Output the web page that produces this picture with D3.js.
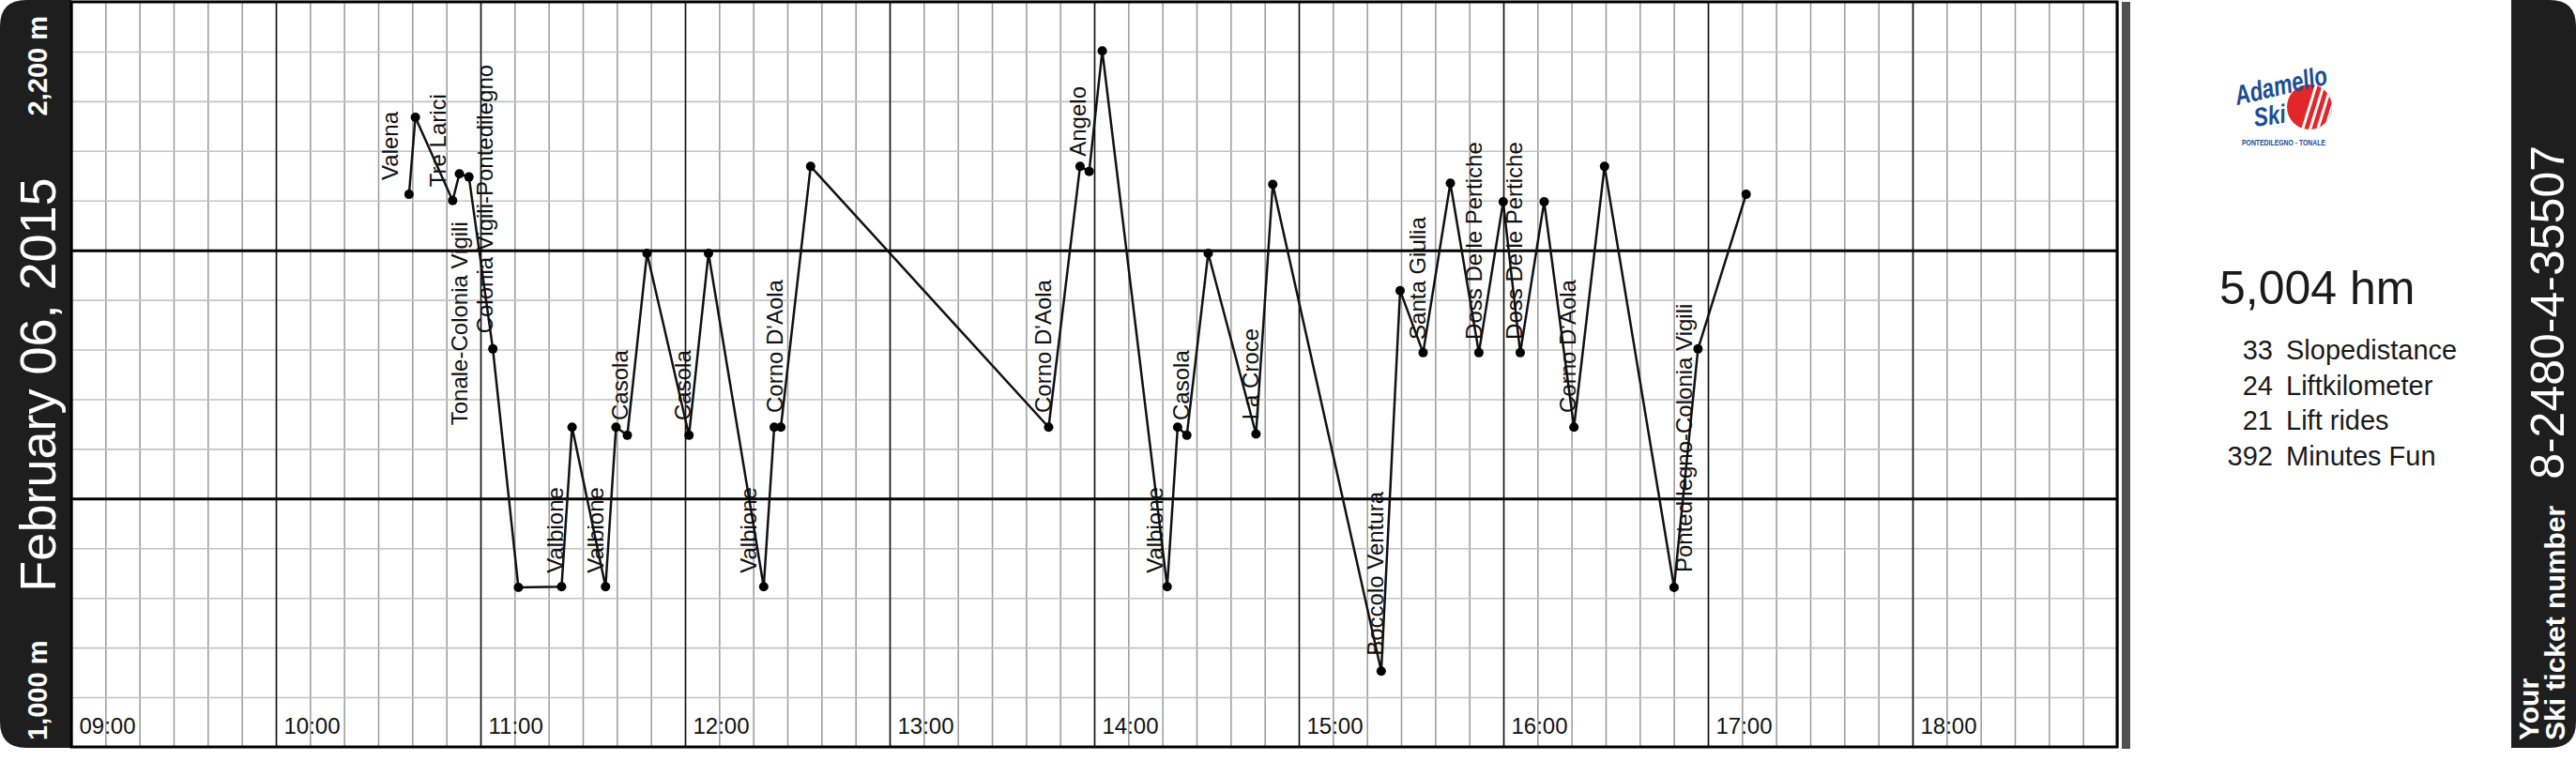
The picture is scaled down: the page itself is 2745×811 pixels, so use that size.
<!DOCTYPE html>
<html><head><meta charset="utf-8">
<script src="https://cdn.jsdelivr.net/npm/d3@7"></script>
<style>
html,body{margin:0;padding:0;background:#fff;}
svg{display:block;font-family:"Liberation Sans",Arial,sans-serif;}
</style>
</head><body>
<svg id="chart" width="2745" height="811"></svg>
<script>
// ---- data ----
const rideTimes = ["10:39:03","10:40:54","10:51:50","10:53:49","10:56:37","11:03:38","11:11:07","11:23:47","11:26:52","11:36:41",
  "11:39:45","11:43:04","11:48:51","12:01:09","12:06:53","12:23:04","12:26:09","12:28:06","12:36:50","13:46:38",
  "13:55:51","13:58:32","14:02:22","14:21:24","14:24:28","14:27:10","14:33:26","14:47:27","14:52:22","15:24:11",
  "15:29:43","15:36:28","15:44:27","15:52:49","15:59:57","16:04:57","16:11:58","16:20:42","16:29:40","16:50:04",
  "16:57:05","17:11:12"];
const rideAltitudes = [1890,2014,1880,1923,1918,1641,1257,1258,1515,1258,
  1515,1502,1795,1502,1795,1258,1515,1515,1935,1515,
  1935,1927,2121,1258,1515,1502,1795,1504,1906,1122,
  1735,1635,1908,1635,1878,1635,1878,1515,1935,1257,
  1641,1890];
const liftNames = ["Valena","Tre Larici","Tonale-Colonia Vigili","Colonia Vigili-Pontedilegno","Valbione","Valbione",
  "Casola","Casola","Valbione","Corno D'Aola","Corno D'Aola","Angelo","Valbione","Casola","La Croce",
  "Boccolo Ventura","Santa Giulia","Doss Delle Pertiche","Doss Delle Pertiche","Corno D'Aola","Pontedilegno-Colonia Vigili"];
const liftLabelTimes = ["10:35:46","10:49:48","10:56:09","11:03:35","11:24:14","11:36:04",
  "11:43:12","12:01:41","12:20:56","12:28:37","13:47:20","13:57:32","14:20:06","14:27:47","14:48:11",
  "15:24:47","15:37:08","15:53:38","16:05:31","16:21:11","16:55:19"];
const liftLabelAltitudes = [1913,1902,1518,1666,1280,1280,
  1526,1526,1280,1538,1538,1951,1280,1526,1527,
  1147,1656,1656,1656,1538,1281];
const timeTickLabels = ["09:00","10:00","11:00","12:00","13:00","14:00","15:00","16:00","17:00","18:00"];
const altitudeDomain = [1000, 2200];
const altitudeLabels = ["2,200 m","1,000 m"];
const dateText = "February 06, 2015";
const totalText = "5,004 hm";
const statValues = ["33","24","21","392"];
const statNames = ["Slopedistance","Liftkilometer","Lift rides","Minutes Fun"];
const ticketNumber = "8-2480-4-35507";

// ---- setup ----
const svg = d3.select("#chart");
const parse = d3.timeParse("%H:%M:%S");
const L = 76, R = 2256, T = 2, B = 796;
const x = d3.scaleTime().domain([parse("09:00:00"), parse("19:00:00")]).range([L, R]);
const y = d3.scaleLinear().domain(altitudeDomain).range([B, T]);

const rides = rideTimes.map((t, i) => ({t: parse(t), alt: rideAltitudes[i]}));
const lifts = liftNames.map((n, i) => ({name: n, t: parse(liftLabelTimes[i]), alt: liftLabelAltitudes[i]}));

// ---- side panels ----
const panelColor = "#1e1e1e";
function leftPanel(x0, x1, y0, y1, r) {
  return `M${x1},${y0} L${x0 + r},${y0} Q${x0},${y0} ${x0},${y0 + r} L${x0},${y1 - r} Q${x0},${y1} ${x0 + r},${y1} L${x1},${y1} Z`;
}
function rightPanel(x0, x1, y0, y1, r) {
  return `M${x0},${y0} L${x1 - r},${y0} Q${x1},${y0} ${x1},${y0 + r} L${x1},${y1 - r} Q${x1},${y1} ${x1 - r},${y1} L${x0},${y1} Z`;
}
svg.append("path").attr("d", leftPanel(0, L, 0, 797, 28)).attr("fill", panelColor);
svg.append("path").attr("d", rightPanel(2676, 2745, 0, 797, 28)).attr("fill", panelColor);

// ---- grid ----
const grid = svg.append("g");
const h = B - T;
grid.append("g").attr("transform", `translate(0,${B})`)
  .call(d3.axisBottom(x).ticks(d3.timeMinute.every(10)).tickSize(-h).tickFormat(""))
  .call(g => g.select(".domain").remove())
  .call(g => g.selectAll("line").attr("stroke", "#9a9a9a").attr("stroke-width", 1.5));
grid.append("g").attr("transform", `translate(${L},0)`)
  .call(d3.axisLeft(y).tickValues(d3.range(altitudeDomain[0], altitudeDomain[1] + 1, 80)).tickSize(-(R - L)).tickFormat(""))
  .call(g => g.select(".domain").remove())
  .call(g => g.selectAll("line").attr("stroke", "#c4c4c4").attr("stroke-width", 1.6));
grid.append("g").attr("transform", `translate(0,${B})`)
  .call(d3.axisBottom(x).ticks(d3.timeHour.every(1)).tickSize(-h).tickFormat(""))
  .call(g => g.select(".domain").remove())
  .call(g => g.selectAll("line").attr("stroke", "#111").attr("stroke-width", 1.5));
grid.append("g").attr("transform", `translate(${L},0)`)
  .call(d3.axisLeft(y).tickValues([1400, 1800]).tickSize(-(R - L)).tickFormat(""))
  .call(g => g.select(".domain").remove())
  .call(g => g.selectAll("line").attr("stroke", "#000").attr("stroke-width", 3));

// time tick labels
const tickAxis = svg.append("g").attr("transform", `translate(0,${B})`)
  .call(d3.axisBottom(x).tickValues(timeTickLabels.map(s => parse(s + ":00")))
    .tickSize(0).tickFormat((d, i) => timeTickLabels[i]));
tickAxis.select(".domain").remove();
tickAxis.selectAll("text")
  .attr("text-anchor", "start").attr("x", 8).attr("y", -14).attr("dy", 0)
  .attr("font-size", 24).attr("fill", "#111").attr("font-family", "Liberation Sans, Arial, sans-serif");

// border
svg.append("rect").attr("x", L).attr("y", T).attr("width", R - L).attr("height", B - T)
  .attr("fill", "none").attr("stroke", "#000").attr("stroke-width", 3);

// gray separator
svg.append("rect").attr("x", 2261).attr("y", T).attr("width", 9).attr("height", 796).attr("fill", "#505050");

// ---- ride line ----
const line = d3.line().x(d => x(d.t)).y(d => y(d.alt));
svg.append("path").datum(rides).attr("d", line)
  .attr("fill", "none").attr("stroke", "#111").attr("stroke-width", 2.5).attr("stroke-linejoin", "round");
svg.append("g").selectAll("circle").data(rides).join("circle")
  .attr("cx", d => x(d.t)).attr("cy", d => y(d.alt)).attr("r", 5).attr("fill", "#000");

// lift labels
svg.append("g").selectAll("text").data(lifts).join("text")
  .attr("transform", d => `translate(${x(d.t)},${y(d.alt)}) rotate(-90)`)
  .attr("text-anchor", "start").attr("font-size", 24).attr("fill", "#111")
  .text(d => d.name);

// ---- left panel texts ----
svg.append("text").attr("transform", `translate(50,17) rotate(-90)`).attr("text-anchor", "end")
  .attr("font-size", 29).attr("font-weight", "bold").attr("fill", "#fff").text(altitudeLabels[0]);
svg.append("text").attr("transform", `translate(50,789) rotate(-90)`).attr("text-anchor", "start")
  .attr("font-size", 29).attr("font-weight", "bold").attr("fill", "#fff").text(altitudeLabels[1]);
svg.append("text").attr("transform", `translate(59,410) rotate(-90)`).attr("text-anchor", "middle")
  .attr("font-size", 54).attr("fill", "#fff").text(dateText);

// ---- right panel texts ----
svg.append("text").attr("transform", `translate(2732,155) rotate(-90)`).attr("text-anchor", "end")
  .attr("font-size", 50).attr("fill", "#fff").text(ticketNumber);
svg.append("text").attr("transform", `translate(2705,789) rotate(-90)`).attr("text-anchor", "start")
  .attr("font-size", 30).attr("font-weight", "bold").attr("fill", "#fff").text("Your");
svg.append("text").attr("transform", `translate(2733,789) rotate(-90)`).attr("text-anchor", "start")
  .attr("font-size", 30).attr("font-weight", "bold").attr("fill", "#fff").text("Ski ticket number");

// ---- stats ----
svg.append("text").attr("x", 2365).attr("y", 324).attr("font-size", 50).attr("fill", "#1a1a1a").text(totalText);
const stats = svg.append("g");
stats.selectAll("text.v").data(statValues).join("text").attr("class", "v")
  .attr("x", 2422).attr("y", (d, i) => 383 + i * 37.5).attr("text-anchor", "end")
  .attr("font-size", 29).attr("fill", "#1a1a1a").text(d => d);
stats.selectAll("text.n").data(statNames).join("text").attr("class", "n")
  .attr("x", 2436).attr("y", (d, i) => 383 + i * 37.5)
  .attr("font-size", 29).attr("fill", "#1a1a1a").text(d => d);

// ---- logo ----
const blue = "#1b4d94", red = "#e3262a";
const logo = svg.append("g");
const cx = 2461, cy = 114, cr = 24;
logo.append("clipPath").attr("id", "lc").append("circle").attr("cx", cx).attr("cy", cy).attr("r", cr);
logo.append("circle").attr("cx", cx).attr("cy", cy).attr("r", cr).attr("fill", red);
const stripes = logo.append("g").attr("clip-path", "url(#lc)");
d3.range(5).forEach(i => {
  stripes.append("line").attr("x1", cx - 8 + i * 8).attr("y1", cy + cr + 2).attr("x2", cx + 8 + i * 8).attr("y2", cy - cr - 2)
    .attr("stroke", "#fff").attr("stroke-width", 3);
});
logo.append("text").attr("transform", "translate(2384,112) rotate(-13)")
  .attr("font-size", 29).attr("font-weight", "bold").attr("font-style", "italic").attr("fill", blue)
  .attr("textLength", 100).attr("lengthAdjust", "spacingAndGlyphs").text("Adamello");
logo.append("text").attr("transform", "translate(2403,135) rotate(-8)")
  .attr("font-size", 28).attr("font-weight", "bold").attr("font-style", "italic").attr("fill", blue)
  .attr("textLength", 34).attr("lengthAdjust", "spacingAndGlyphs").text("Ski");
logo.append("text").attr("x", 2389).attr("y", 155).attr("font-size", 8.5).attr("font-weight", "bold").attr("fill", blue)
  .attr("textLength", 89).attr("lengthAdjust", "spacingAndGlyphs").text("PONTEDILEGNO - TONALE");
</script>
</body></html>
